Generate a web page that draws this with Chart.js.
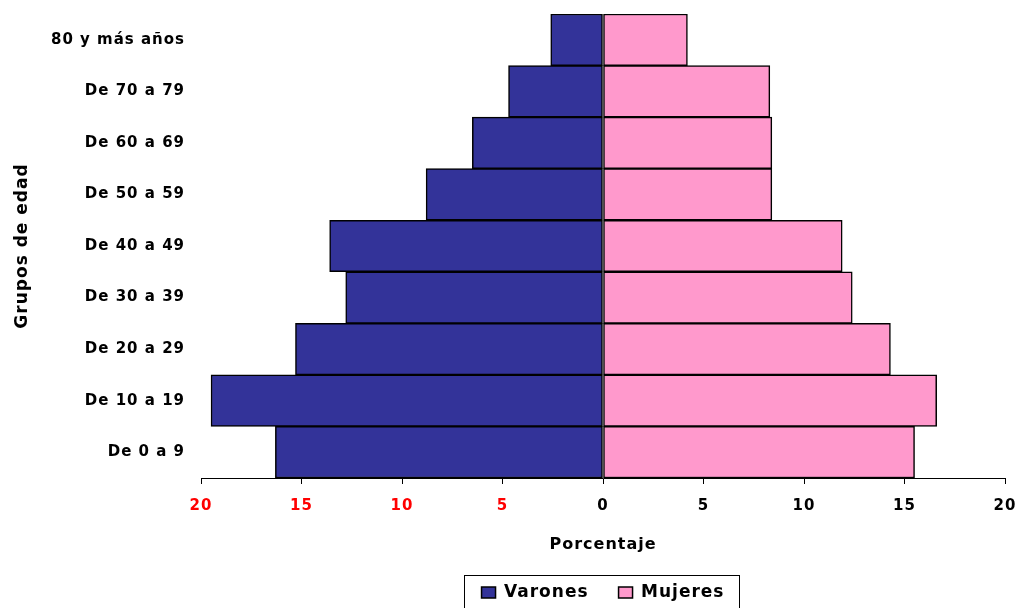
<!DOCTYPE html>
<html>
<head>
<meta charset="utf-8">
<script src="https://cdn.jsdelivr.net/npm/chart.js@4"></script>
<style>
  html, body { margin: 0; padding: 0; background: #fff; }
  #wrap { width: 1019px; height: 608px; }
</style>
</head>
<body>
<div id="wrap"><canvas id="pyramidChart"></canvas></div>
<script>
// age groups, top of the pyramid first
const ageGroups = [
  "80 y más años",
  "De 70 a 79",
  "De 60 a 69",
  "De 50 a 59",
  "De 40 a 49",
  "De 30 a 39",
  "De 20 a 29",
  "De 10 a 19",
  "De 0 a 9",
];
// percentages, same order as ageGroups
const varones = [2.6, 4.7, 6.5, 8.8, 13.6, 12.8, 15.3, 19.5, 16.3];
const mujeres = [4.2, 8.3, 8.4, 8.4, 11.9, 12.4, 14.3, 16.6, 15.5];
const xTickLabels = ["20", "15", "10", "5", "0", "5", "10", "15", "20"];

const font = "'DejaVu Sans', sans-serif";

// wider text like the original (it looks horizontally stretched)
const spacing = {
  id: "spacing",
  beforeUpdate(chart) { chart.ctx.letterSpacing = "1px"; },
  beforeDraw(chart) { chart.ctx.letterSpacing = "1px"; },
};

// box round the legend
const legendFrame = {
  id: "legendFrame",
  afterDraw(chart) {
    const boxes = chart.legend && chart.legend.legendHitBoxes;
    if (!boxes || !boxes.length) return;
    const first = boxes[0];
    const last = boxes[boxes.length - 1];
    const l = Math.round(first.left - 18);
    const r = Math.round(last.left + last.width + 15);
    const t = Math.round(first.top - 9);
    const ctx = chart.ctx;
    ctx.save();
    ctx.strokeStyle = "#000";
    ctx.lineWidth = 1;
    ctx.strokeRect(l + 0.5, t + 0.5, r - l, chart.height - t + 10);
    ctx.restore();
  },
};

new Chart(document.getElementById("pyramidChart"), {
  type: "bar",
  data: {
    labels: ageGroups,
    datasets: [
      {
        label: "Varones",
        data: varones.map((v) => -v),
        backgroundColor: "#333399",
        borderColor: "#000",
        borderWidth: 1.5,
        borderSkipped: false,
      },
      {
        label: "Mujeres",
        data: mujeres,
        backgroundColor: "#FF99CC",
        borderColor: "#000",
        borderWidth: 1.5,
        borderSkipped: false,
      },
    ],
  },
  options: {
    indexAxis: "y",
    responsive: true,
    maintainAspectRatio: false,
    animation: false,
    barPercentage: 1,
    categoryPercentage: 1,
    layout: { padding: { top: 14, left: 0, right: 14, bottom: -3 } },
    scales: {
      x: {
        stacked: true,
        min: -20,
        max: 20,
        ticks: {
          stepSize: 5,
          padding: 13,
          font: { family: font, size: 15, weight: "bold" },
          color: (c) => (c.tick && c.tick.value < 0 ? "#FF0000" : "#000"),
          callback: (v, i) => xTickLabels[i],
        },
        grid: {
          drawOnChartArea: false,
          drawTicks: true,
          tickLength: 6,
          color: "#000",
        },
        border: { display: true, color: "#000" },
        title: {
          display: true,
          text: "Porcentaje",
          color: "#000",
          font: { family: font, size: 16, weight: "bold" },
          padding: { top: 0, bottom: 0 },
        },
        afterFit: (s) => {
          s.height = 76;
          s.paddingLeft = 0;
          s.paddingRight = 0;
        },
      },
      y: {
        stacked: true,
        grid: { display: false },
        border: { display: false },
        ticks: {
          padding: 8,
          color: "#000",
          font: { family: font, size: 15, weight: "bold" },
        },
        title: {
          display: true,
          text: "Grupos de edad",
          color: "#000",
          font: { family: font, size: 17, weight: "bold" },
          padding: { top: 12, bottom: 0 },
        },
        afterFit: (s) => {
          s.width = 201;
          s.paddingTop = 0;
          s.paddingBottom = 0;
        },
      },
    },
    plugins: {
      legend: {
        position: "bottom",
        fullSize: false,
        labels: {
          color: "#000",
          font: { family: font, size: 17, weight: "bold" },
          boxWidth: 14,
          boxHeight: 11,
          padding: 30,
        },
      },
      tooltip: { enabled: false },
    },
  },
  plugins: [spacing, legendFrame],
});
</script>
</body>
</html>
